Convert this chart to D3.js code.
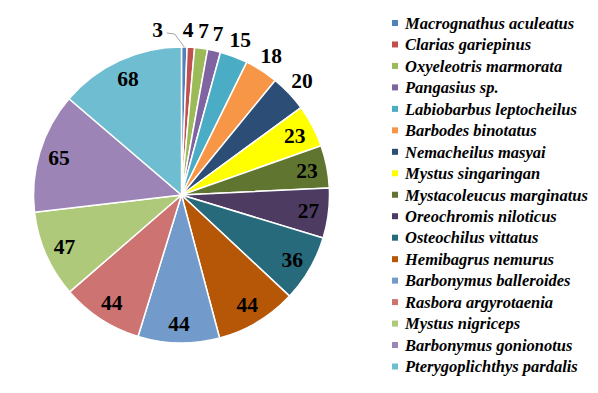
<!DOCTYPE html>
<html>
<head>
<meta charset="utf-8">
<script src="https://cdn.jsdelivr.net/npm/d3@7"></script>
<style>
    body { margin: 0; background: #ffffff; }
    #chart { width: 598px; height: 393px; }
</style>
</head>
<body>
<div id="chart"></div>
<script>
// Species in legend / slice order (clockwise from 12 o'clock)
const species = [
    "Macrognathus aculeatus",
    "Clarias gariepinus",
    "Oxyeleotris marmorata",
    "Pangasius sp.",
    "Labiobarbus leptocheilus",
    "Barbodes binotatus",
    "Nemacheilus masyai",
    "Mystus singaringan",
    "Mystacoleucus marginatus",
    "Oreochromis niloticus",
    "Osteochilus vittatus",
    "Hemibagrus nemurus",
    "Barbonymus balleroides",
    "Rasbora argyrotaenia",
    "Mystus nigriceps",
    "Barbonymus gonionotus",
    "Pterygoplichthys pardalis"
];

const counts = [3, 4, 7, 7, 15, 18, 20, 23, 23, 27, 36, 44, 44, 44, 47, 65, 68];

// Office-like palette
const palette = [
    "#4f81bd", "#c0504d", "#9bbb59", "#8064a2", "#4bacc6", "#f79646",
    "#2c4d75", "#ffff00", "#5f7530", "#4d3b62", "#276a7c", "#b65708",
    "#729aca", "#cd7371", "#afc97a", "#9c85b6", "#6fbdd1"
];

const SERIF = "Liberation Serif";

class PieChart {
    constructor(containerId) {
        this.container = document.getElementById(containerId);
        this.width = 598;
        this.height = 393;
        this.svg = d3.select(this.container)
            .append("svg")
            .attr("width", this.width)
            .attr("height", this.height);

        this.cx = 181.5;
        this.cy = 195;
        this.radius = 148;
        this.color = d3.scaleOrdinal(species, palette);
    }

    draw() {
        const g = this.svg.append("g")
            .attr("transform", `translate(${this.cx},${this.cy})`);

        const data = species.map((name, i) => ({ name, value: counts[i] }));

        const pie = d3.pie()
            .value(d => d.value)
            .sort(null);
        const arcs = pie(data);

        const arc = d3.arc().innerRadius(0).outerRadius(this.radius);

        g.selectAll("path.slice")
            .data(arcs)
            .join("path")
            .attr("class", "slice")
            .attr("d", arc)
            .attr("fill", d => this.color(d.data.name))
            .attr("stroke", "#ffffff")
            .attr("stroke-width", 1.5)
            .attr("stroke-linejoin", "round");

        this.addLabels(g, arcs);
    }

    addLabels(g, arcs) {
        const insideArc = d3.arc().innerRadius(128).outerRadius(128);
        const outsideArc = d3.arc().innerRadius(166).outerRadius(166);
        const edgeArc = d3.arc().innerRadius(this.radius).outerRadius(this.radius);

        // small slices get their label outside the pie
        const isOutside = d => (d.endAngle - d.startAngle) < 0.28;

        arcs.forEach((d, i) => {
            let [x, y] = isOutside(d) ? outsideArc.centroid(d) : insideArc.centroid(d);

            // first label collides with its neighbour: push it left and add a leader line
            if (i === 0) {
                x -= 27;
                const [ex, ey] = edgeArc.centroid(d);
                g.append("polyline")
                    .attr("points", [[x + 9, y + 4], [x + 17, y + 5], [ex, ey]].map(p => p.join(",")).join(" "))
                    .attr("fill", "none")
                    .attr("stroke", "#a6a6a6")
                    .attr("stroke-width", 1);
            }
            if (i === 1) x -= 4;

            g.append("text")
                .attr("x", x)
                .attr("y", y)
                .attr("text-anchor", "middle")
                .attr("dy", "0.35em")
                .attr("font-family", SERIF)
                .attr("font-weight", "bold")
                .attr("font-size", 21.5)
                .attr("fill", "#000000")
                .text(d.data.value);
        });
    }

    drawLegend() {
        const legend = this.svg.append("g")
            .attr("transform", "translate(392,23)");

        const y = d3.scalePoint()
            .domain(species)
            .range([0, 343.5]);

        const rows = legend.selectAll("g.row")
            .data(species)
            .join("g")
            .attr("class", "row")
            .attr("transform", d => `translate(0,${y(d)})`);

        rows.append("rect")
            .attr("x", 0)
            .attr("y", -3)
            .attr("width", 6)
            .attr("height", 6)
            .attr("fill", d => this.color(d));

        rows.append("text")
            .attr("x", 13)
            .attr("dy", "0.35em")
            .attr("font-family", SERIF)
            .attr("font-weight", "bold")
            .attr("font-style", "italic")
            .attr("font-size", 16.5)
            .attr("fill", "#000000")
            .text(d => d);
    }
}

const chart = new PieChart("chart");
chart.draw();
chart.drawLegend();
</script>
</body>
</html>
